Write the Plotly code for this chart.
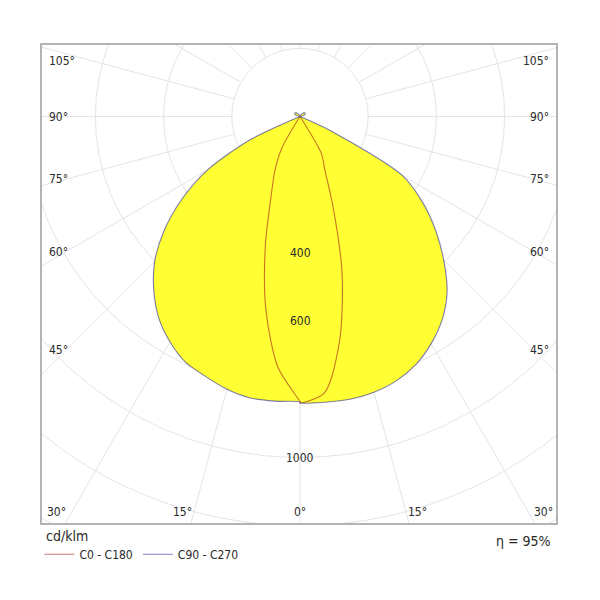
import numpy as np
import plotly.graph_objects as go

# ---------------- data (cd/klm) ----------------
GAMMA = list(range(0, 185, 5))  # 0 = straight down, 180 = straight up

# C0 (right half of red curve) and C180 (left half)
C0 = [840, 814, 668, 477, 285, 172, 125, 0, 0, 0, 0, 0, 0, 0, 0, 0, 0, 0, 0,
      0, 0, 0, 0, 0, 0, 0, 0, 0, 0, 0, 0, 0, 0, 0, 0, 0, 0]
C180 = [837, 739, 576, 393, 247, 174, 105, 0, 0, 0, 0, 0, 0, 0, 0, 0, 0, 0, 0,
        0, 0, 0, 0, 0, 0, 0, 0, 0, 0, 0, 0, 0, 0, 0, 0, 0, 0]
# C90 (right half of blue curve) and C270 (left half)
C90 = [840, 841, 842, 837, 825, 803, 769, 727, 671, 596, 519, 439, 347, 100, 0,
       0, 0, 0, 0, 0, 5, 10, 14, 17, 18, 18, 17, 15, 12, 9, 7, 5, 3, 2, 1, 0, 0]
C270 = [837, 838, 838, 828, 811, 795, 763, 722, 667, 603, 520, 423, 312, 160, 0,
        0, 0, 0, 0, 0, 5, 10, 14, 17, 18, 18, 17, 15, 12, 9, 7, 5, 3, 2, 1, 0, 0]

GRID_RADII = [200, 400, 600, 800, 1000, 1200, 1400, 1600]
SPOKE_ANGLES = list(range(0, 360, 15))
RADIAL_LABELS = [400, 600, 1000]
SIDE_ANGLE_LABELS = [45, 60, 75, 90, 105]
BOTTOM_ANGLE_LABELS = [0, 15, 30]
UNIT_LABEL = "cd/klm"
ETA_LABEL = "η = 95%"
NAME_RED = "C0 - C180"
NAME_BLUE = "C90 - C270"

# ---------------- geometry ----------------
X_RANGE = [-756.6, 750.7]
Y_RANGE = [-1192.1, 209.7]
PX = 0.341  # pixels per cd/klm

FONT = "DejaVu Sans Condensed, DejaVu Sans, sans-serif"
TXT = "#2a2a2a"
GRID = "#e4e4e4"


def half_xy(values, side):
    g = np.radians(GAMMA)
    r = np.asarray(values, dtype=float)
    return side * r * np.sin(g), -r * np.cos(g)


def plane_curve(right, left):
    xr, yr = half_xy(right, 1)
    xl, yl = half_xy(left, -1)
    return (np.concatenate([xr[::-1], xl]), np.concatenate([yr[::-1], yl]))


fig = go.Figure()

# grid circles
t = np.radians(np.linspace(0, 360, 721))
for R in GRID_RADII:
    fig.add_trace(go.Scatter(x=R * np.sin(t), y=R * np.cos(t), mode="lines",
                             line=dict(color=GRID, width=1), hoverinfo="skip",
                             showlegend=False))
# spokes
for a in SPOKE_ANGLES:
    ar = np.radians(a)
    rr = np.array([GRID_RADII[0], 3000])
    fig.add_trace(go.Scatter(x=rr * np.sin(ar), y=-rr * np.cos(ar), mode="lines",
                             line=dict(color=GRID, width=1), hoverinfo="skip",
                             showlegend=False))

bx, by = plane_curve(C90, C270)
rx, ry = plane_curve(C0, C180)

fig.add_trace(go.Scatter(x=bx, y=by, mode="lines", fill="toself",
                         fillcolor="#ffff33",
                         line=dict(color="rgba(0,0,0,0)", width=0, shape="spline", smoothing=0.8),
                         hoverinfo="skip", showlegend=False))
fig.add_trace(go.Scatter(x=rx, y=ry, mode="lines", name=NAME_RED, opacity=0.6,
                         line=dict(color="#a81a1a", width=1.1, shape="spline", smoothing=0.8)))
fig.add_trace(go.Scatter(x=bx, y=by, mode="lines", name=NAME_BLUE, opacity=0.6,
                         line=dict(color="#2a2a9a", width=1.1, shape="spline", smoothing=0.8)))

ann = []
# radial value labels
for v in RADIAL_LABELS:
    ann.append(dict(x=0, y=-v, text=str(v), showarrow=False, xanchor="center",
                    yanchor="middle", font=dict(size=12, color=TXT, family=FONT)))

# side angle labels
inset_x = 22 / PX
x_side = X_RANGE[1] - inset_x
y_max = Y_RANGE[1] - 16 / PX
for a in SIDE_ANGLE_LABELS:
    ar = np.radians(a)
    y = -x_side / np.sin(ar) * np.cos(ar)
    y = min(y, y_max)
    ann.append(dict(x=X_RANGE[0] + 5 / PX, y=y, text=f"{a}°", showarrow=False,
                    xanchor="left", yanchor="middle",
                    font=dict(size=12, color=TXT, family=FONT)))
    ann.append(dict(x=X_RANGE[1] - 5 / PX, y=y, text=f"{a}°", showarrow=False,
                    xanchor="right", yanchor="middle",
                    font=dict(size=12, color=TXT, family=FONT)))

# bottom angle labels
y_bot = Y_RANGE[0] + 11 / PX
for a in BOTTOM_ANGLE_LABELS:
    xb = -Y_RANGE[0] * np.tan(np.radians(a))
    if a == 0:
        ann.append(dict(x=0, y=y_bot, text=f"{a}°", showarrow=False,
                        xanchor="center", yanchor="middle",
                        font=dict(size=12, color=TXT, family=FONT)))
    else:
        ann.append(dict(x=-xb + 3 / PX, y=y_bot, text=f"{a}°", showarrow=False,
                        xanchor="right", yanchor="middle",
                        font=dict(size=12, color=TXT, family=FONT)))
        ann.append(dict(x=xb - 3 / PX, y=y_bot, text=f"{a}°", showarrow=False,
                        xanchor="left", yanchor="middle",
                        font=dict(size=12, color=TXT, family=FONT)))

ann.append(dict(xref="paper", yref="paper", x=0.004, y=-0.027, text=UNIT_LABEL,
                showarrow=False, xanchor="left", yanchor="middle",
                font=dict(size=14, color=TXT, family=FONT)))
ann.append(dict(xref="paper", yref="paper", x=0.995, y=-0.038, text=ETA_LABEL,
                showarrow=False, xanchor="right", yanchor="middle",
                font=dict(size=14, color=TXT, family=FONT)))

fig.update_layout(
    width=600, height=600,
    margin=dict(l=34, r=52, t=37, b=85, autoexpand=False),
    paper_bgcolor="white", plot_bgcolor="white",
    annotations=ann,
    showlegend=True,
    legend=dict(orientation="h", x=-0.005, y=-0.035, xanchor="left", yanchor="top",
                font=dict(size=12, color=TXT, family=FONT),
                bgcolor="rgba(0,0,0,0)", itemwidth=30, tracegroupgap=0),
    xaxis=dict(range=X_RANGE, showgrid=False, zeroline=False, showticklabels=False,
               ticks="", showline=True, mirror=True, linecolor="#b4b4b4",
               linewidth=1.5, fixedrange=True),
    yaxis=dict(range=Y_RANGE, showgrid=False, zeroline=False, showticklabels=False,
               ticks="", showline=True, mirror=True, linecolor="#b4b4b4",
               linewidth=1.5, fixedrange=True),
)

fig.write_html("out.html")
